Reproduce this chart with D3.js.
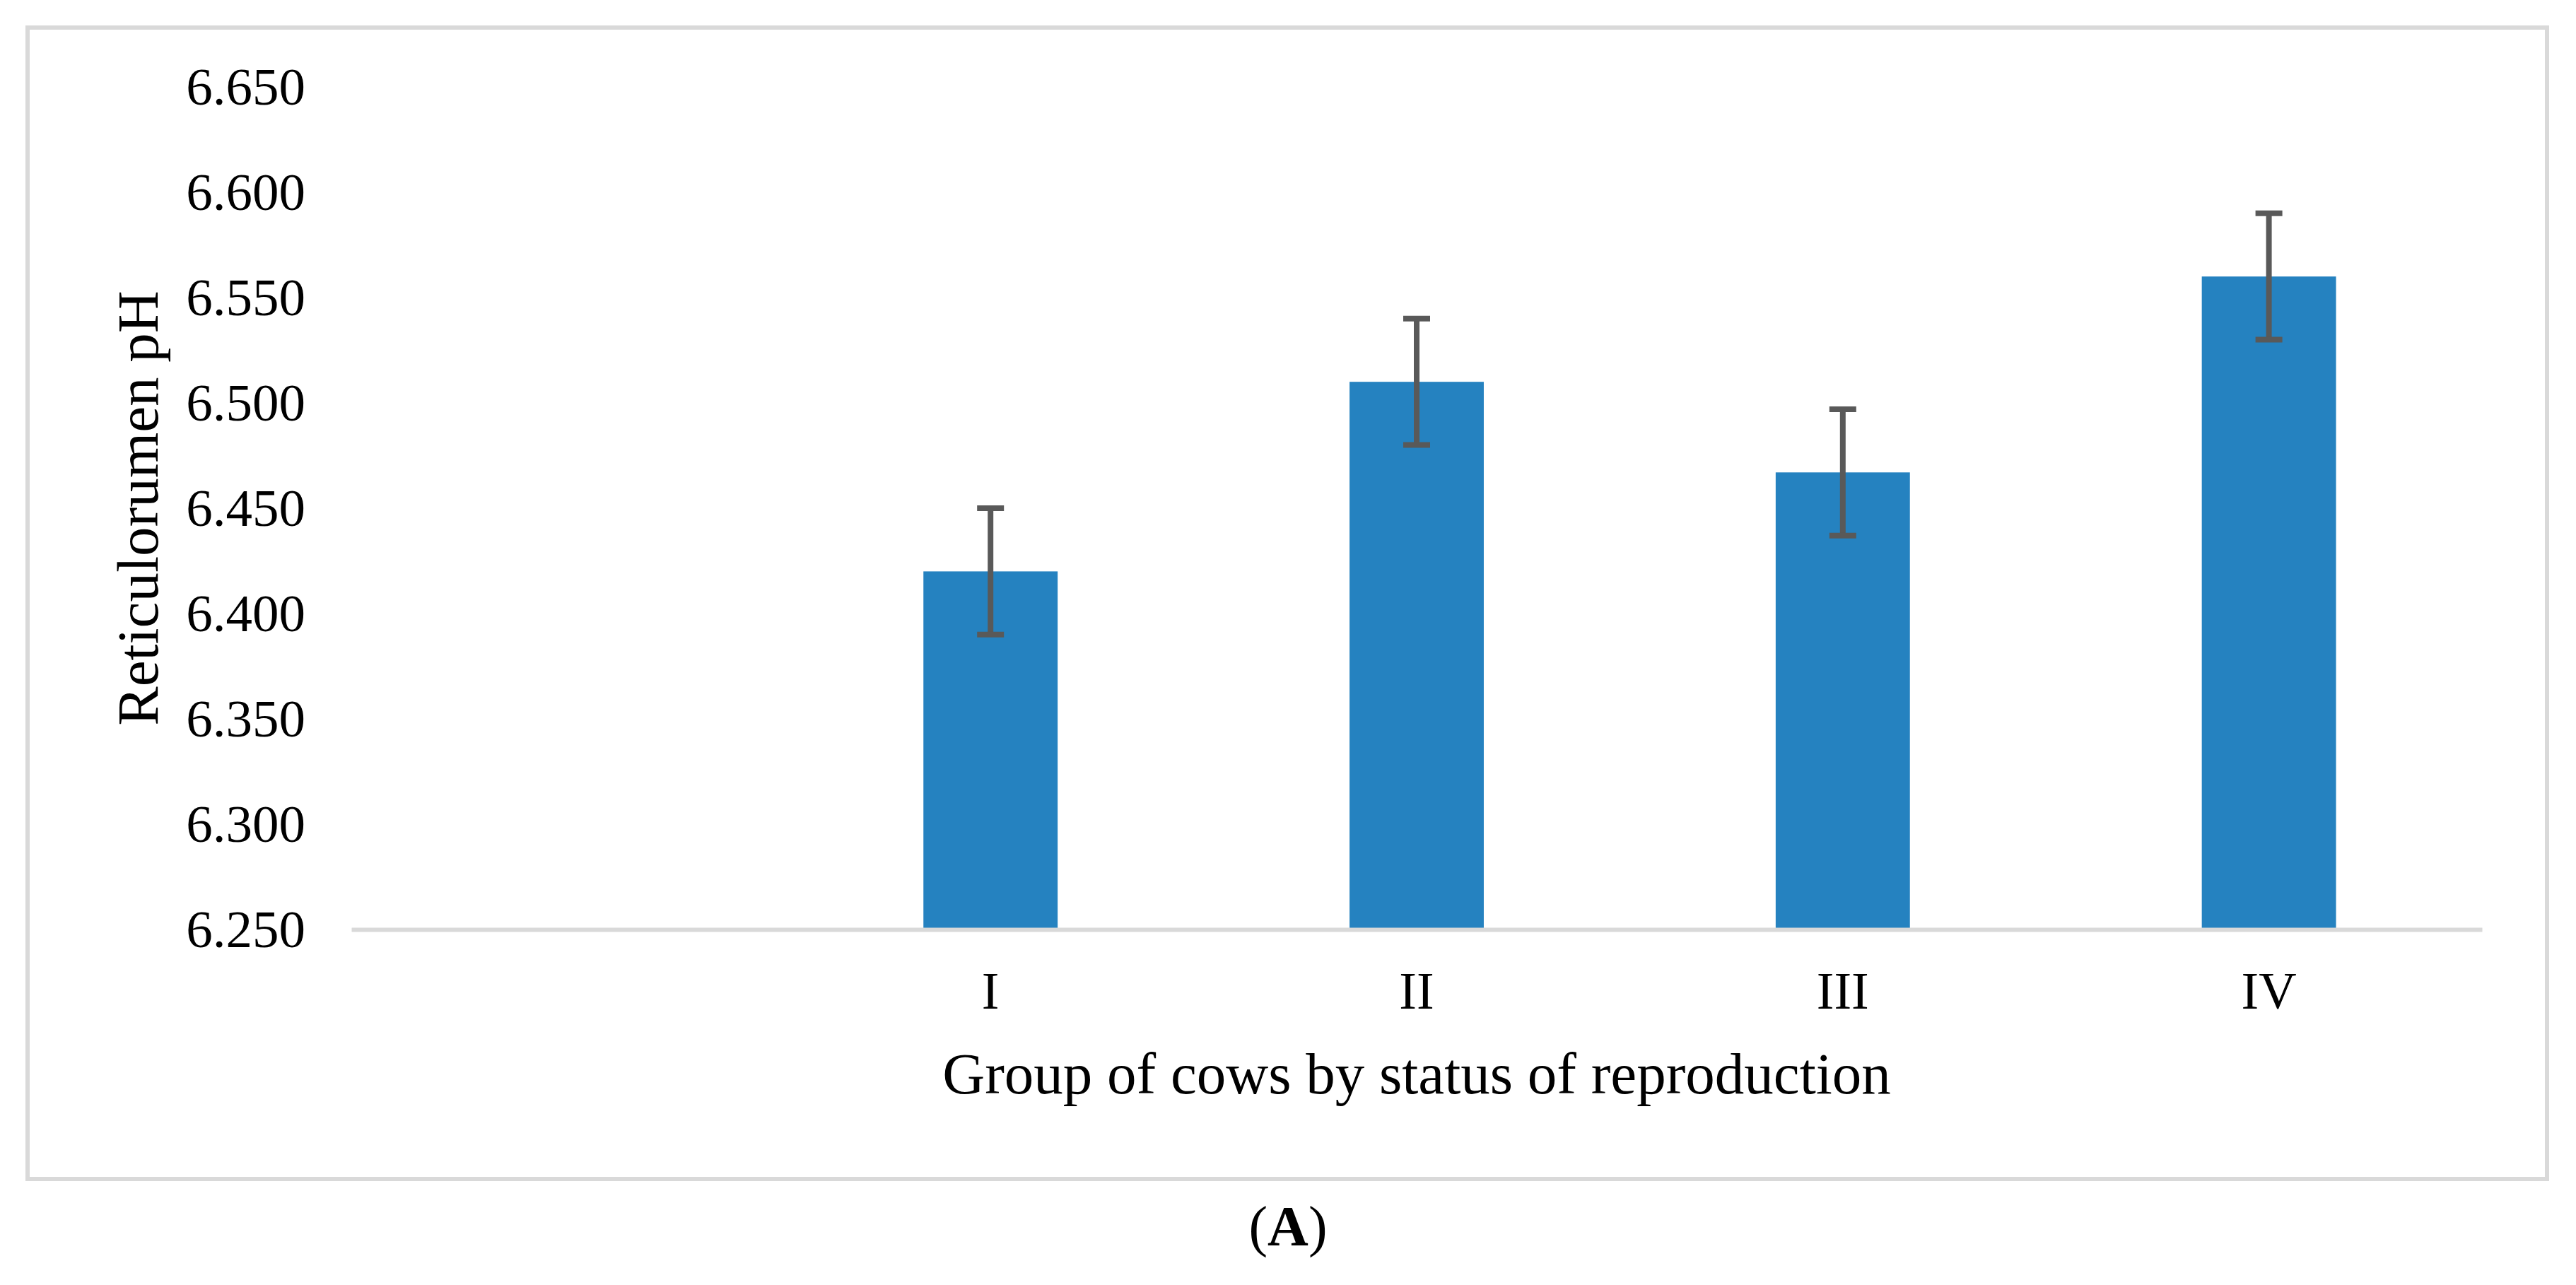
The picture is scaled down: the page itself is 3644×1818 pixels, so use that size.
<!DOCTYPE html>
<html>
<head>
<meta charset="utf-8">
<script src="https://cdn.jsdelivr.net/npm/d3@7"></script>
<style>
  html, body { margin: 0; padding: 0; background: #fff; }
  svg { display: block; }
  text { font-family: "Liberation Serif", "Times New Roman", serif; fill: #000; }
</style>
</head>
<body>
<div id="chart"></div>
<script>
const W = 3644, H = 1818;

// data (first slot is an empty category)
const groups = ["", "I", "II", "III", "IV"];
const phMeans = [null, 6.420, 6.510, 6.467, 6.560];
const phErrors = [null, 0.030, 0.030, 0.030, 0.030];
const yTicks = [6.25, 6.30, 6.35, 6.40, 6.45, 6.50, 6.55, 6.60, 6.65];

const plot = { left: 497, right: 3511, top: 123, bottom: 1315 };

const svg = d3.select("#chart")
    .append("svg")
    .attr("width", W)
    .attr("height", H);

// chart area frame
svg.append("rect")
    .attr("x", 39).attr("y", 39)
    .attr("width", 3603 - 39).attr("height", 1668 - 39)
    .attr("fill", "none")
    .attr("stroke", "#d9d9d9")
    .attr("stroke-width", 6);

const x = d3.scaleBand()
    .domain(groups)
    .range([plot.left, plot.right])
    .paddingInner(0.685)
    .paddingOuter(0.3425);

const y = d3.scaleLinear()
    .domain([yTicks[0], yTicks[yTicks.length - 1]])
    .range([plot.bottom, plot.top]);

const rows = groups.map((g, i) => ({ name: g, value: phMeans[i], err: phErrors[i] }))
    .filter(d => d.value !== null);

// bars
svg.append("g")
    .selectAll("rect")
    .data(rows)
    .join("rect")
    .attr("x", d => x(d.name))
    .attr("y", d => y(d.value))
    .attr("width", x.bandwidth())
    .attr("height", d => y(yTicks[0]) - y(d.value))
    .attr("fill", "#2582c0");

// x axis
const xAxis = svg.append("g")
    .attr("transform", `translate(0,${plot.bottom})`)
    .call(d3.axisBottom(x).tickSize(0).tickSizeOuter(0));

xAxis.select(".domain")
    .attr("stroke", "#d9d9d9")
    .attr("stroke-width", 6);

xAxis.selectAll("text")
    .attr("y", 112)
    .attr("dy", null)
    .attr("font-family", "Liberation Serif")
    .attr("font-size", 74)
    .attr("fill", "#000");

// y axis
const yAxis = svg.append("g")
    .attr("transform", `translate(${plot.left},0)`)
    .call(d3.axisLeft(y).tickValues(yTicks).tickFormat(d3.format(".3f")).tickSize(0));

yAxis.select(".domain").remove();

yAxis.selectAll("text")
    .attr("x", -65)
    .attr("dy", "0.33em")
    .attr("font-family", "Liberation Serif")
    .attr("font-size", 75)
    .attr("fill", "#000");

// error bars
const errG = svg.append("g")
    .attr("stroke", "#595959")
    .attr("stroke-width", 8);

const cx = d => x(d.name) + x.bandwidth() / 2;
const capHalf = 19;

errG.selectAll("line.stem")
    .data(rows)
    .join("line")
    .attr("class", "stem")
    .attr("x1", cx).attr("x2", cx)
    .attr("y1", d => y(d.value + d.err))
    .attr("y2", d => y(d.value - d.err));

errG.selectAll("line.capTop")
    .data(rows)
    .join("line")
    .attr("class", "capTop")
    .attr("x1", d => cx(d) - capHalf).attr("x2", d => cx(d) + capHalf)
    .attr("y1", d => y(d.value + d.err)).attr("y2", d => y(d.value + d.err));

errG.selectAll("line.capBottom")
    .data(rows)
    .join("line")
    .attr("class", "capBottom")
    .attr("x1", d => cx(d) - capHalf).attr("x2", d => cx(d) + capHalf)
    .attr("y1", d => y(d.value - d.err)).attr("y2", d => y(d.value - d.err));

// axis titles
svg.append("text")
    .attr("transform", `translate(223,${(plot.top + plot.bottom) / 2}) rotate(-90)`)
    .attr("text-anchor", "middle")
    .attr("font-size", 83)
    .text("Reticulorumen pH");

svg.append("text")
    .attr("x", (plot.left + plot.right) / 2)
    .attr("y", 1547)
    .attr("text-anchor", "middle")
    .attr("font-size", 83)
    .text("Group of cows by status of reproduction");

// panel label
const panel = svg.append("text")
    .attr("x", W / 2)
    .attr("y", 1762)
    .attr("text-anchor", "middle")
    .attr("font-size", 80);
panel.append("tspan").text("(");
panel.append("tspan").attr("font-weight", "bold").text("A");
panel.append("tspan").text(")");
</script>
</body>
</html>
